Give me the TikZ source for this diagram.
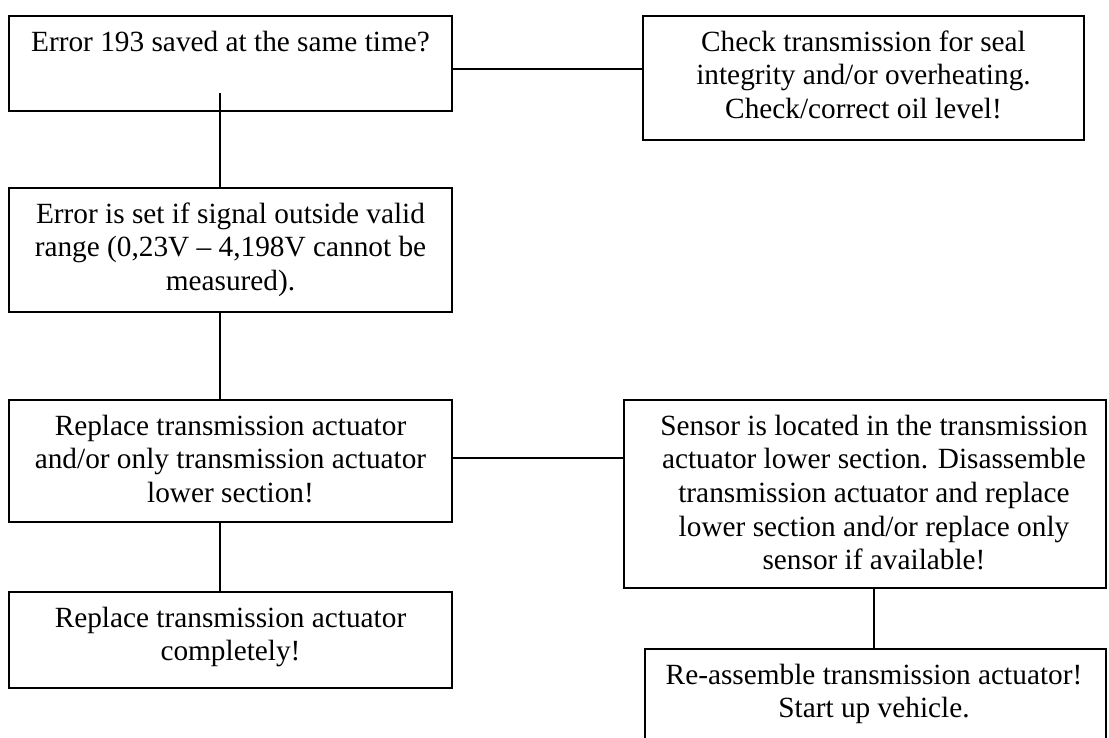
\documentclass[tikz,border=0pt]{standalone}
\usepackage{fontspec}
\setmainfont{Liberation Serif}
\newcommand{\asc}{\rule{0pt}{26.1pt}}
\begin{document}
\begin{tikzpicture}[x=1pt,y=-1pt,
  box/.style={draw, line width=1.8pt, rectangle, inner sep=0pt},
  txt/.style={anchor=north, align=center, inner sep=0pt, font=\fontsize{29.3}{33.7}\selectfont},
  conn/.style={line width=1.8pt}]
\useasboundingbox (0,0) rectangle (1109,737);
\clip (0,0) rectangle (1109,737);
% boxes
\node[box, minimum width=443, minimum height=95]  (A) at (230.5,63.5) {};
\node[box, minimum width=441, minimum height=124] (C) at (863.5,78) {};
\node[box, minimum width=443, minimum height=124] (B) at (230.5,250) {};
\node[box, minimum width=443, minimum height=122] (D) at (230.5,461) {};
\node[box, minimum width=443, minimum height=96]  (F) at (230.5,640) {};
\node[box, minimum width=482, minimum height=188] (E) at (865,494) {};
\node[box, minimum width=461, minimum height=111] (G) at (875.5,704.5) {};
% texts
\node[txt] (tA) at (230.5,24.8) {\asc Error 193 saved at the same time?};
\node[txt] (tC) at (863.5,24.8) {\asc Check transmission for seal\\integrity and/or overheating.\\Check/correct oil level!};
\node[txt] (tB) at (230.5,196.8) {\asc Error is set if signal outside valid\\range (0,23V -- 4,198V cannot be\\measured).};
\node[txt] (tD) at (230.5,408.8) {\asc Replace transmission actuator\\and/or only transmission actuator\\lower section!};
\node[txt] (tF) at (230.5,600.8) {\asc Replace transmission actuator\\completely!};
\node[txt] (tE) at (874,408.8) {\asc Sensor is located in the transmission\\actuator lower section. Disassemble\\transmission actuator and replace\\lower section and/or replace only\\sensor if available!};
\node[txt] (tG) at (874,657.8) {\asc Re-assemble transmission actuator!\\Start up vehicle.};
% connectors
\coordinate (vL) at (220,0);
\coordinate (vR) at (874,0);
\coordinate (a1) at (220,93);
\coordinate (hAC) at (500,69);
\coordinate (hDE) at (500,458);
\draw[conn] (A.east |- hAC) -- (C.west |- hAC);
\draw[conn] (a1) -- (B.north -| vL);
\draw[conn] (B.south -| vL) -- (D.north -| vL);
\draw[conn] (D.south -| vL) -- (F.north -| vL);
\draw[conn] (D.east |- hDE) -- (E.west |- hDE);
\draw[conn] (E.south -| vR) -- (G.north -| vR);
\end{tikzpicture}
\end{document}
